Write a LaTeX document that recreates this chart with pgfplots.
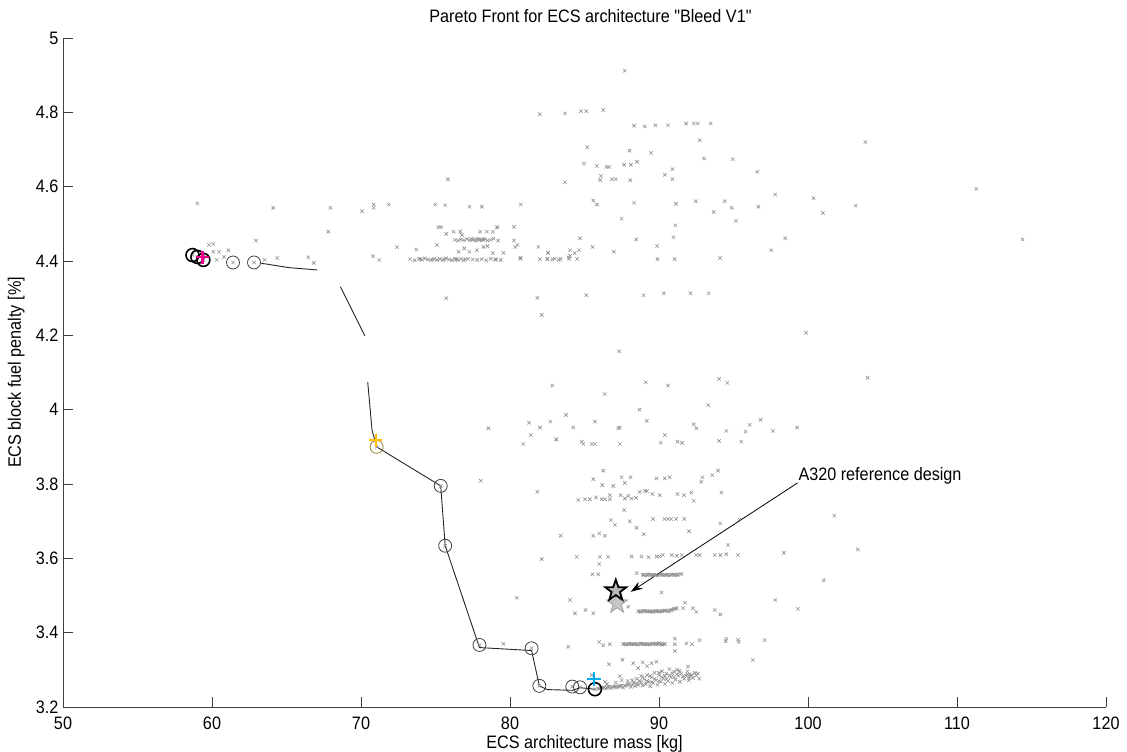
\documentclass[border=0pt]{standalone}
\usepackage{pgfplots}
\pgfplotsset{compat=1.18}
\usepackage{pgfplotstable}
\usepackage{fontspec}
\setmainfont{Liberation Sans}[FakeStretch=0.9, Ligatures=TeXOff]
\usetikzlibrary{calc,arrows.meta}
\definecolor{scat}{RGB}{145,145,145}
\definecolor{orng}{RGB}{255,190,0}

\pgfdeclareplotmark{fstar}{%
  \pgfpathmoveto{\pgfpointpolar{90}{\pgfplotmarksize}}%
  \pgfpathlineto{\pgfpointpolar{126}{0.40\pgfplotmarksize}}%
  \pgfpathlineto{\pgfpointpolar{162}{\pgfplotmarksize}}%
  \pgfpathlineto{\pgfpointpolar{198}{0.40\pgfplotmarksize}}%
  \pgfpathlineto{\pgfpointpolar{234}{\pgfplotmarksize}}%
  \pgfpathlineto{\pgfpointpolar{270}{0.40\pgfplotmarksize}}%
  \pgfpathlineto{\pgfpointpolar{306}{\pgfplotmarksize}}%
  \pgfpathlineto{\pgfpointpolar{342}{0.40\pgfplotmarksize}}%
  \pgfpathlineto{\pgfpointpolar{18}{\pgfplotmarksize}}%
  \pgfpathlineto{\pgfpointpolar{54}{0.40\pgfplotmarksize}}%
  \pgfpathclose
  \pgfusepathqfillstroke
}

\pgfplotstableread{
x y
87.70 4.912
82.00 4.795
83.69 4.797
84.76 4.803
85.12 4.803
86.26 4.806
88.33 4.764
89.05 4.762
89.76 4.765
90.61 4.765
91.82 4.770
92.33 4.770
92.60 4.770
93.47 4.770
92.73 4.725
103.85 4.720
85.18 4.706
88.02 4.697
89.47 4.691
93.02 4.676
94.94 4.674
84.96 4.662
85.83 4.656
86.48 4.653
86.66 4.653
87.66 4.659
88.11 4.659
88.53 4.667
90.90 4.647
90.39 4.632
96.60 4.640
83.69 4.612
86.10 4.629
86.05 4.618
86.84 4.620
87.10 4.620
88.07 4.617
90.90 4.620
111.30 4.594
97.80 4.579
100.37 4.569
103.20 4.549
101.00 4.529
85.59 4.563
85.83 4.552
88.33 4.557
91.13 4.554
92.47 4.561
94.41 4.561
93.67 4.532
94.88 4.543
95.16 4.508
96.67 4.546
87.49 4.514
91.10 4.496
84.70 4.461
88.47 4.458
90.97 4.464
89.87 4.440
98.47 4.461
114.40 4.458
85.54 4.438
86.97 4.425
97.53 4.429
84.03 4.429
84.63 4.429
59.02 4.555
64.11 4.543
67.95 4.543
70.07 4.534
70.85 4.552
70.85 4.543
71.86 4.552
74.98 4.552
75.65 4.550
77.28 4.546
78.11 4.546
80.72 4.552
75.83 4.620
67.80 4.479
62.95 4.455
59.80 4.443
60.09 4.446
60.09 4.425
60.47 4.425
61.10 4.429
60.80 4.411
60.31 4.403
63.53 4.403
64.38 4.408
66.46 4.410
66.83 4.395
70.81 4.413
71.23 4.403
72.42 4.437
73.71 4.431
75.10 4.443
75.20 4.491
75.38 4.491
76.21 4.479
76.66 4.479
76.77 4.470
75.72 4.473
76.30 4.457
76.50 4.455
76.70 4.458
76.90 4.456
77.10 4.459
77.30 4.456
77.50 4.458
77.70 4.455
77.90 4.458
78.10 4.456
78.30 4.459
78.50 4.455
78.70 4.457
78.90 4.460
79.20 4.455
77.40 4.460
77.60 4.457
77.80 4.460
78.00 4.457
78.20 4.458
78.00 4.479
78.45 4.479
78.85 4.479
79.16 4.491
79.11 4.491
80.27 4.492
80.27 4.455
80.34 4.438
80.50 4.443
81.90 4.438
82.57 4.422
76.55 4.425
76.93 4.434
77.28 4.425
77.78 4.429
78.22 4.438
78.49 4.440
78.85 4.421
79.56 4.422
73.30 4.405
73.60 4.402
73.90 4.406
74.10 4.403
74.30 4.407
74.50 4.404
74.70 4.402
74.90 4.406
75.10 4.403
75.30 4.405
75.50 4.402
75.70 4.407
75.90 4.404
76.10 4.402
76.30 4.406
76.50 4.403
76.70 4.405
76.90 4.402
77.20 4.406
77.50 4.404
77.80 4.403
78.10 4.405
78.40 4.402
78.70 4.406
79.00 4.404
74.00 4.405
74.80 4.404
75.60 4.405
76.40 4.404
77.00 4.405
79.38 4.403
79.07 4.404
80.68 4.406
80.72 4.409
82.00 4.405
82.50 4.405
82.84 4.404
83.27 4.403
82.51 4.406
83.00 4.406
83.40 4.406
83.97 4.406
84.50 4.406
83.92 4.410
84.03 4.414
84.34 4.421
82.55 4.422
89.90 4.405
91.04 4.405
94.10 4.408
85.12 4.308
88.96 4.308
90.32 4.313
92.11 4.313
93.33 4.313
75.72 4.300
81.83 4.301
82.13 4.255
99.87 4.207
87.33 4.157
104.00 4.086
82.84 4.065
89.11 4.074
90.61 4.065
94.03 4.083
94.59 4.072
86.35 4.042
93.31 4.012
88.69 4.000
83.76 3.986
82.71 3.968
85.70 3.968
89.18 3.970
84.25 3.952
87.37 3.952
92.33 3.961
92.51 3.950
94.52 3.943
95.81 3.941
96.08 3.959
96.82 3.973
97.64 3.943
99.27 3.952
78.55 3.950
81.28 3.965
81.39 3.932
80.90 3.908
82.02 3.952
83.13 3.920
87.26 3.950
83.09 3.920
84.81 3.914
84.92 3.908
85.48 3.908
85.70 3.908
87.37 3.908
90.12 3.911
90.39 3.932
91.24 3.914
91.55 3.911
94.03 3.916
95.53 3.914
86.26 3.836
85.59 3.813
86.19 3.797
86.93 3.795
87.49 3.818
88.09 3.818
87.70 3.803
89.83 3.815
90.39 3.815
90.72 3.818
92.91 3.818
92.84 3.806
93.58 3.824
93.96 3.836
78.04 3.809
81.83 3.779
84.58 3.757
85.03 3.759
85.36 3.759
85.77 3.764
86.15 3.759
86.37 3.759
86.70 3.759
86.70 3.770
87.42 3.770
87.71 3.761
87.93 3.768
88.16 3.761
88.45 3.763
88.71 3.779
89.05 3.782
89.20 3.781
89.56 3.773
90.05 3.770
91.24 3.773
91.68 3.770
92.17 3.777
92.33 3.755
94.19 3.777
87.66 3.730
86.77 3.703
87.04 3.690
88.04 3.700
88.49 3.682
88.98 3.665
89.60 3.706
90.37 3.706
90.60 3.706
90.82 3.706
91.15 3.706
91.70 3.706
92.02 3.673
94.12 3.694
95.41 3.705
101.77 3.715
83.40 3.661
85.59 3.661
85.99 3.667
86.37 3.661
84.47 3.604
86.03 3.604
86.59 3.604
85.99 3.585
88.16 3.605
88.83 3.605
89.30 3.603
89.84 3.605
90.03 3.605
90.25 3.609
90.85 3.609
91.20 3.607
91.53 3.609
92.50 3.609
92.73 3.609
93.74 3.609
94.12 3.609
94.52 3.611
95.30 3.609
94.63 3.636
82.13 3.598
98.38 3.615
103.34 3.624
85.54 3.557
85.92 3.557
88.50 3.560
88.90 3.556
89.10 3.554
89.30 3.557
89.50 3.555
89.70 3.556
89.90 3.554
90.10 3.557
90.30 3.555
90.50 3.556
90.70 3.554
90.90 3.557
91.10 3.555
91.30 3.556
91.50 3.558
89.00 3.556
89.20 3.556
89.40 3.556
89.60 3.555
89.80 3.556
90.00 3.556
90.20 3.556
90.40 3.555
90.60 3.556
90.80 3.556
91.00 3.556
91.20 3.556
101.06 3.541
90.17 3.508
84.03 3.488
97.80 3.488
99.32 3.464
84.36 3.452
85.07 3.461
85.59 3.452
87.93 3.470
88.60 3.458
88.80 3.456
89.00 3.459
89.20 3.457
89.40 3.458
89.60 3.456
89.80 3.459
90.00 3.457
90.20 3.458
90.40 3.460
90.60 3.457
90.80 3.461
91.00 3.464
91.20 3.466
88.70 3.457
88.90 3.458
89.10 3.458
89.30 3.457
89.50 3.457
89.70 3.458
89.90 3.458
90.10 3.457
90.30 3.459
90.50 3.459
90.70 3.459
90.90 3.462
91.10 3.465
91.75 3.481
91.62 3.466
92.28 3.466
92.51 3.456
93.74 3.461
94.12 3.449
80.45 3.494
79.56 3.370
83.91 3.362
85.99 3.375
86.26 3.366
86.70 3.369
87.60 3.370
87.80 3.368
88.00 3.370
88.20 3.369
88.40 3.370
88.60 3.368
88.80 3.371
89.00 3.369
89.20 3.370
89.40 3.368
89.60 3.371
89.80 3.369
90.00 3.372
90.20 3.368
90.40 3.370
87.70 3.369
87.90 3.369
88.10 3.370
88.30 3.369
88.50 3.369
88.70 3.370
88.90 3.370
89.10 3.369
89.30 3.369
89.50 3.370
89.70 3.370
89.90 3.370
90.10 3.370
90.30 3.369
91.06 3.384
91.06 3.369
91.06 3.351
91.84 3.371
92.21 3.369
92.73 3.380
94.52 3.384
94.47 3.377
95.30 3.381
95.35 3.375
97.09 3.380
96.30 3.327
86.64 3.315
87.55 3.327
88.27 3.318
88.60 3.305
88.90 3.320
89.20 3.310
89.50 3.318
89.83 3.322
91.35 3.298
91.95 3.309
92.06 3.288
85.48 3.286
86.37 3.268
87.37 3.283
86.00 3.249
86.20 3.252
86.40 3.250
86.60 3.254
86.80 3.251
87.00 3.255
87.20 3.253
87.40 3.257
87.60 3.252
87.80 3.258
88.00 3.262
88.10 3.254
88.30 3.266
88.40 3.256
88.60 3.260
88.70 3.270
88.90 3.258
89.00 3.275
89.10 3.262
89.30 3.268
89.40 3.256
89.50 3.280
89.60 3.265
89.80 3.272
89.90 3.260
90.00 3.285
90.10 3.268
90.30 3.276
90.40 3.262
90.50 3.290
90.60 3.270
90.80 3.280
90.90 3.265
91.00 3.295
91.10 3.274
91.30 3.284
91.40 3.268
91.50 3.290
91.70 3.276
91.80 3.285
92.00 3.272
92.10 3.282
92.30 3.278
92.50 3.285
92.70 3.276
92.60 3.290
86.50 3.262
87.10 3.266
87.90 3.270
88.50 3.276
89.20 3.286
90.20 3.296
91.20 3.300
91.90 3.296
88.80 3.284
87.50 3.272
90.70 3.302
89.70 3.292
85.90 3.250
86.10 3.251
86.30 3.253
86.50 3.252
86.70 3.255
86.90 3.254
87.10 3.256
87.30 3.255
87.50 3.258
87.70 3.257
87.90 3.261
88.20 3.260
88.50 3.264
88.80 3.266
89.20 3.270
89.50 3.266
89.70 3.276
90.00 3.270
90.20 3.280
90.50 3.275
90.70 3.285
91.00 3.280
91.20 3.288
91.60 3.282
91.90 3.288
92.20 3.286
92.40 3.292
88.20 3.272
88.90 3.280
89.40 3.284
90.00 3.292
90.40 3.284
90.90 3.290
91.40 3.294
92.00 3.279
58.69 4.416
59.02 4.411
59.42 4.403
61.41 4.396
62.82 4.396
71.05 3.900
75.35 3.795
75.65 3.634
77.95 3.367
81.45 3.358
81.97 3.257
84.18 3.255
84.70 3.253
85.70 3.248
}\scatterdata

\pgfplotstableread{
x y
61.41 4.396
62.82 4.396
75.35 3.795
75.65 3.634
77.95 3.367
81.45 3.358
81.97 3.257
84.18 3.255
84.70 3.253
}\frontthin

\pgfplotstableread{
x y
58.69 4.416
59.02 4.411
59.42 4.403
85.70 3.248
}\frontthick

\begin{document}
\begin{tikzpicture}
\begin{axis}[
  name=ax,
  scale only axis,
  width=1043pt, height=669pt,
  xmin=50, xmax=120, ymin=3.2, ymax=5,
  axis x line*=bottom, axis y line*=left,
  axis line style={black!75, line width=0.8pt},
  every tick/.style={black!75, line width=0.8pt},
  tick align=inside,
  major tick length=10pt,
  xtick={50,60,70,80,90,100,110,120},
  ytick={3.2,3.4,3.6,3.8,4,4.2,4.4,4.6,4.8,5},
  yticklabels={3.2,3.4,3.6,3.8,4,4.2,4.4,4.6,4.8,5},
  /pgf/number format/assume math mode=true,
  font=\fontsize{18}{21}\selectfont,
  tick label style={font=\fontsize{18}{21}\selectfont},
  xticklabel style={yshift=-6pt},
  yticklabel style={xshift=-1pt},
  title={Pareto Front for ECS architecture "Bleed V1"},
  title style={at={(axis description cs:0.5,1)}, anchor=base, yshift=9pt, xshift=6pt},
  xlabel={ECS architecture mass [kg]},
  xlabel style={at={(axis description cs:0.5,0)}, anchor=base, yshift=-41pt},
  ylabel={ECS block fuel penalty [\%]},
  ylabel style={at={(axis description cs:-0.0403,0.5)}, anchor=base},
  unbounded coords=jump,
  clip=false,
]
\addplot[only marks, mark=x, mark size=2.4pt, scat, line width=0.6pt] table {\scatterdata};

\addplot[black!85, line width=0.9pt, mark=none] coordinates {
  (63.3,4.394) (65.2,4.382) (67.06,4.376) (67.5,nan)
  (68.62,4.331) (70.25,4.199) (70.3,nan)
  (70.45,4.075) (70.74,3.945) (71.05,3.90) (75.35,3.795) (75.65,3.634)
  (77.95,3.36) (81.45,3.352) (81.97,3.257) (82.5,3.247) (84.18,3.245)
  (84.70,3.252) (85.70,3.248)
};

\addplot[only marks, mark=o, mark size=6.5pt, black!75, line width=0.8pt] table {\frontthin};
\addplot[only marks, mark=o, mark size=6.5pt, orng!50!black!80, line width=0.8pt] coordinates {(71.05,3.900)};
\addplot[only marks, mark=o, mark size=6.5pt, black, line width=1.6pt] table {\frontthick};

\addplot[only marks, mark=+, mark size=6.5pt, orng, line width=2.2pt] coordinates {(71.0,3.918)};
\addplot[only marks, mark=+, mark size=6.5pt, magenta, line width=2.2pt] coordinates {(59.36,4.410)};
\addplot[only marks, mark=+, mark size=7pt, cyan, line width=2.2pt] coordinates {(85.63,3.275)};

\addplot[only marks, mark=fstar, mark size=11pt, draw=gray!75, fill=gray!45, line width=0.8pt] coordinates {(87.19,3.479)};
\addplot[only marks, mark=fstar, mark size=11pt, draw=black, fill=gray!55, line width=1.8pt] coordinates {(87.10,3.513)};

\draw[black, line width=0.8pt, -{Stealth[length=12pt,width=8pt]}] (axis cs:99.3,3.803) -- (axis cs:88.1,3.510);
\node[anchor=base west, inner sep=0pt] at (axis cs:99.35,3.81) {A320 reference design};
\end{axis}
\pgfresetboundingbox
\path[use as bounding box] ($(ax.south west)+(-63pt,-44pt)$) rectangle ($(ax.north east)+(21pt,38pt)$);
\end{tikzpicture}
\end{document}
